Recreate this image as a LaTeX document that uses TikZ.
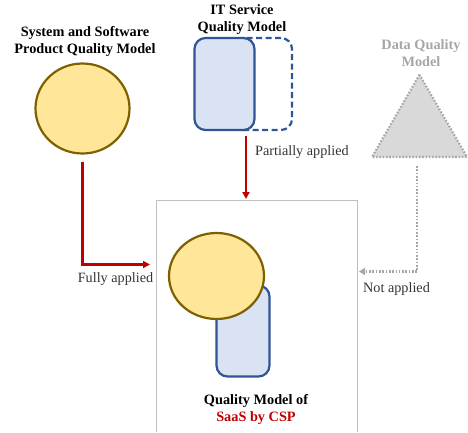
\documentclass[tikz,border=0pt]{standalone}
\usepackage{fontspec}
\setmainfont{Liberation Serif}
\usetikzlibrary{shapes.geometric,arrows.meta,calc}
\definecolor{goldfill}{HTML}{FFE699}
\definecolor{golddraw}{HTML}{7F6000}
\definecolor{bluefill}{HTML}{DAE3F3}
\definecolor{bluedraw}{HTML}{2F5597}
\definecolor{appred}{HTML}{C00000}
\definecolor{greytxt}{HTML}{A6A6A6}
\definecolor{greyfill}{HTML}{D9D9D9}
\definecolor{boxline}{HTML}{BFBFBF}
\definecolor{labeltxt}{HTML}{333333}
\tikzset{
  x=1pt, y=-1pt,
  title/.style={font=\bfseries\fontsize{14.3}{17}\selectfont, align=center, inner sep=0pt},
  lbl/.style={font=\fontsize{14.2}{16}\selectfont, text=labeltxt, inner sep=0pt},
  product/.style={ellipse, draw=golddraw, fill=goldfill, line width=2.2pt, inner sep=0pt},
  service/.style={rectangle, rounded corners=11pt, draw=bluedraw, line width=2.2pt, inner sep=0pt},
  redarrow/.style={draw=appred, line width=2.3pt, -{Triangle[length=7pt,width=7pt]}},
  greyarrow/.style={draw=greytxt, line width=2.2pt, dash pattern=on 1.6pt off 1.7pt,
                    -{Triangle[length=6pt,width=7pt]}},
}
\begin{document}
\begin{tikzpicture}
\useasboundingbox (0,0) rectangle (468,432);

% framed area for the SaaS model
\node[minimum width=200pt, minimum height=231.5pt, inner sep=0pt] (box) at (257,316.25) {};
\draw[boxline, line width=0.9pt] (box.south west) |- (box.north east) -- (box.south east);

% system and software product quality model
\node[title] (systitle) at (85,41.5) {System and Software\\Product Quality Model};
\node[product, minimum width=94pt, minimum height=90pt] (sys) at (82.5,108.5) {};

% IT service quality model
\node[title] (ittitle) at (242,19.5) {IT Service\\Quality Model};
\node[service, dash pattern=on 6pt off 3.5pt, minimum width=60pt, minimum height=92pt] (itdash) at (262,84) {};
\node[service, fill=bluefill, minimum width=60pt, minimum height=92pt] (it) at (224.5,84) {};

% data quality model
\node[title, text=greytxt] (dqtitle) at (421,53.5) {Data Quality\\Model};
\node[regular polygon, regular polygon sides=3, minimum size=109.7pt, inner sep=0pt,
      fill=greyfill, draw=greytxt, line width=2.2pt, dash pattern=on 1.6pt off 1.7pt] (dq) at (419.5,129.6) {};

% resulting quality model of SaaS
\node[service, fill=bluefill, minimum width=53pt, minimum height=91pt] (saasit) at (243,331) {};
\node[product, minimum width=95pt, minimum height=86pt] (saassys) at (216.5,276) {};
\node[title] (saastitle) at (256,409) {Quality Model of\\\textcolor{appred}{SaaS by CSP}};

% how each model is carried over
\coordinate (fullyend) at (150,264.5);
\draw[redarrow] ($(sys.south)+(0,7)$) |- (fullyend);
\node[lbl] (fully) at (115.5,279) {Fully applied};

\coordinate (partstart) at (246,135.5);
\coordinate (partend) at (246,199);
\draw[redarrow] (partstart) -- (partend);
\node[lbl, anchor=west] (partly) at (255,152) {Partially applied};

\coordinate (notstart) at (417,166);
\coordinate (notend) at (359,271.5);
\draw[greyarrow] (notstart) |- (notend);
\node[lbl, anchor=west] (notapp) at (363,289) {Not applied};
\end{tikzpicture}
\end{document}
